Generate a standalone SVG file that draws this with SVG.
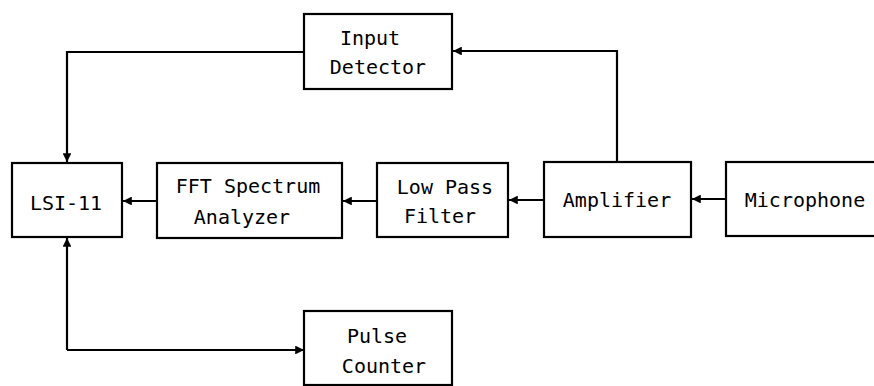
<svg xmlns="http://www.w3.org/2000/svg" width="874" height="386" viewBox="0 0 874 386">
<style>
.box{fill:#fff;stroke:#000;stroke-width:2.2}
.ln{fill:none;stroke:#000;stroke-width:2.2}
text{font-family:"DejaVu Sans Mono","Liberation Mono",monospace;font-size:20px;fill:#000;text-anchor:middle}
</style>
<defs>
<marker id="ah" viewBox="0 0 10 10" refX="10" refY="5" markerWidth="4" markerHeight="4" orient="auto" markerUnits="strokeWidth">
<path d="M0,0 L10,5 L0,10 z" fill="#000"/>
</marker>
</defs>
<rect width="874" height="386" fill="#fff"/>
<g id="connectors">
<line class="ln" x1="726" y1="199" x2="692" y2="199" marker-end="url(#ah)"/>
<line class="ln" x1="544" y1="200" x2="509" y2="200" marker-end="url(#ah)"/>
<line class="ln" x1="377" y1="201" x2="343" y2="201" marker-end="url(#ah)"/>
<line class="ln" x1="157" y1="201" x2="123" y2="201" marker-end="url(#ah)"/>
<polyline class="ln" points="617,162 617,51 453,51" marker-end="url(#ah)"/>
<polyline class="ln" points="304,52 67,52 67,162" marker-end="url(#ah)"/>
<polyline class="ln" points="67,350 304,350" marker-end="url(#ah)"/>
<polyline class="ln" points="67,350 67,238" marker-end="url(#ah)"/>
</g>
<g id="lsi11">
<rect class="box" x="12" y="163" width="110" height="74"/>
<text x="66" y="210">LSI-11</text>
</g>
<g id="fft">
<rect class="box" x="157" y="163" width="185" height="75"/>
<text x="248" y="193">FFT Spectrum</text>
<text x="242" y="224">Analyzer</text>
</g>
<g id="lpf">
<rect class="box" x="377" y="163" width="131" height="74"/>
<text x="445" y="194">Low Pass</text>
<text x="440" y="223">Filter</text>
</g>
<g id="amplifier">
<rect class="box" x="544" y="162" width="147" height="75"/>
<text x="617" y="207">Amplifier</text>
</g>
<g id="microphone">
<rect class="box" x="726" y="162" width="160" height="74"/>
<text x="805" y="207">Microphone</text>
</g>
<g id="input-detector">
<rect class="box" x="304" y="14" width="148" height="75"/>
<text x="370" y="45">Input</text>
<text x="378" y="74">Detector</text>
</g>
<g id="pulse-counter">
<rect class="box" x="304" y="311" width="148" height="74"/>
<text x="377" y="343">Pulse</text>
<text x="384" y="373">Counter</text>
</g>
</svg>
